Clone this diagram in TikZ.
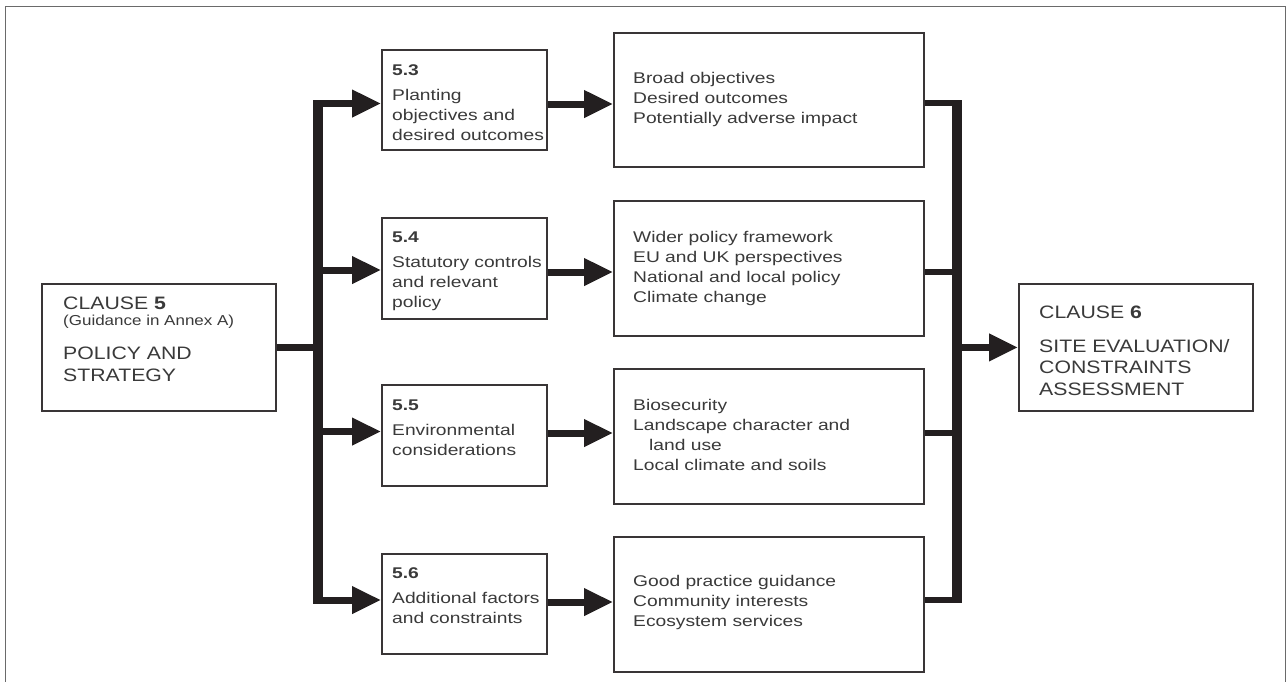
\documentclass[tikz,border=0pt]{standalone}
\usepackage{fontspec}
\newfontfamily\bodyf{Liberation Sans}[FakeStretch=1.24]
\newfontfamily\clausef{Liberation Sans}[FakeStretch=1.18]
\usetikzlibrary{arrows.meta}
\definecolor{ink}{HTML}{231F20}
\definecolor{txtc}{HTML}{3A3A3A}
\definecolor{framec}{HTML}{6A6A6A}
\begin{document}
\begin{tikzpicture}[x=1pt,y=-1pt,
  box/.style={draw=ink!90, line width=1.8pt, rectangle, inner sep=0pt, anchor=north west},
  body/.style={inner sep=0pt, anchor=base west, align=left, text=txtc, font=\bodyf\fontsize{15.5}{20}\selectfont},
  clause/.style={inner sep=0pt, anchor=base west, align=left, text=txtc, font=\clausef\fontsize{18}{21.5}\selectfont},
  guide/.style={inner sep=0pt, anchor=base west, text=txtc, font=\clausef\fontsize{14.4}{17}\selectfont},
  spine/.style={draw=ink, line width=10pt},
  link/.style={draw=ink, line width=6pt},
  feed/.style={draw=ink, line width=7pt, -{Triangle[length=29pt,width=26pt]}}
]
\useasboundingbox (0,0) rectangle (1287,681);
\fill[white] (0,0) rectangle (1287,681);
\draw[framec, line width=1pt] (5,700) -- (5,6) -- (1285,6) -- (1285,700);

% left clause box
\node[box, minimum width=234pt, minimum height=127pt] (c5) at (41,283) {};
\node[clause] (c5t) at (63,309) {CLAUSE {\bfseries 5}};
\node[guide] (c5g) at (63,325.5) {(Guidance in Annex A)};
\node[clause, font=\clausef\fontsize{18}{22}\selectfont] (c5p) at (63,381) {POLICY AND\\STRATEGY};

% middle boxes (text nodes placed by the baseline of their last line)
\node[box, minimum width=165pt, minimum height=100pt] (b53) at (381,49) {};
\node[body] (t53) at (392,140) {{\bfseries 5.3}\\[5pt]Planting\\objectives and\\desired outcomes};
\node[box, minimum width=165pt, minimum height=101pt] (b54) at (381,217) {};
\node[body] (t54) at (392,307) {{\bfseries 5.4}\\[5pt]Statutory controls\\and relevant\\policy};
\node[box, minimum width=165pt, minimum height=101pt] (b55) at (381,384) {};
\node[body] (t55) at (392,455) {{\bfseries 5.5}\\[5pt]Environmental\\considerations};
\node[box, minimum width=165pt, minimum height=100pt] (b56) at (381,553) {};
\node[body] (t56) at (392,623) {{\bfseries 5.6}\\[5pt]Additional factors\\and constraints};

% right boxes
\node[box, minimum width=310pt, minimum height=134pt] (r1) at (613,32) {};
\node[body] (tr1) at (633,123) {Broad objectives\\Desired outcomes\\Potentially adverse impact};
\node[box, minimum width=310pt, minimum height=135pt] (r2) at (613,200) {};
\node[body] (tr2) at (633,302) {Wider policy framework\\EU and UK perspectives\\National and local policy\\Climate change};
\node[box, minimum width=310pt, minimum height=135pt] (r3) at (613,368) {};
\node[body] (tr3) at (633,470) {Biosecurity\\Landscape character and\\\hspace*{16pt}land use\\Local climate and soils};
\node[box, minimum width=310pt, minimum height=135pt] (r4) at (613,536) {};
\node[body] (tr4) at (633,626) {Good practice guidance\\Community interests\\Ecosystem services};

% clause 6 box
\node[box, minimum width=234pt, minimum height=127pt] (c6) at (1018,283) {};
\node[clause] (c6t) at (1039,318) {CLAUSE {\bfseries 6}};
\node[clause] (c6b) at (1039,395) {SITE EVALUATION/\\CONSTRAINTS\\ASSESSMENT};

% left spine
\coordinate (ltop) at (318,100);
\coordinate (lbot) at (318,603.5);
\coordinate (l1) at (318,103.5);
\coordinate (l2) at (318,270);
\coordinate (l3) at (318,431.5);
\coordinate (l4) at (318,600);
\draw[spine] (ltop) -- (lbot);
\draw[draw=ink, line width=7pt] (c5.east) -- (c5.east -| ltop);
\draw[feed] (l1) -- (b53.west |- l1);
\draw[feed] (l2) -- (b54.west |- l2);
\draw[feed] (l3) -- (b55.west |- l3);
\draw[feed] (l4) -- (b56.west |- l4);

% middle arrows
\coordinate (m1) at (546,104);
\coordinate (m2) at (546,272);
\coordinate (m3) at (546,433);
\coordinate (m4) at (546,602);
\draw[feed] (b53.east |- m1) -- (r1.west |- m1);
\draw[feed] (b54.east |- m2) -- (r2.west |- m2);
\draw[feed] (b55.east |- m3) -- (r3.west |- m3);
\draw[feed] (b56.east |- m4) -- (r4.west |- m4);

% right spine
\coordinate (rtop) at (957,100);
\coordinate (rbot) at (957,603);
\coordinate (q1) at (957,103);
\coordinate (q2) at (957,272);
\coordinate (q3) at (957,433);
\coordinate (q4) at (957,600);
\draw[spine] (rtop) -- (rbot);
\draw[link] (r1.east |- q1) -- (q1);
\draw[link] (r2.east |- q2) -- (q2);
\draw[link] (r3.east |- q3) -- (q3);
\draw[link] (r4.east |- q4) -- (q4);
\draw[feed] (c6.west -| rtop) -- (c6.west);
\end{tikzpicture}
\end{document}
